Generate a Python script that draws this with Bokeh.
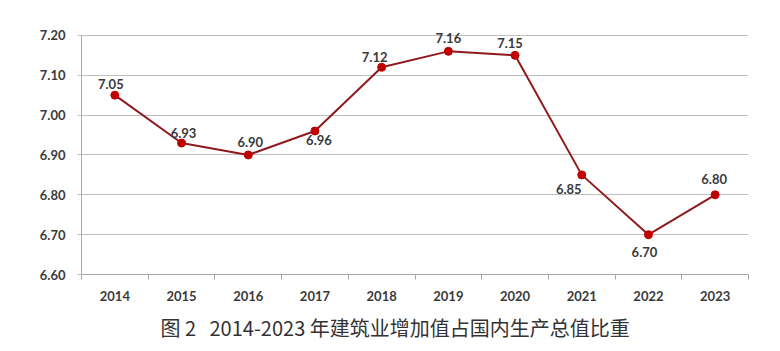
from bokeh.plotting import figure
from bokeh.models import ColumnDataSource, FixedTicker, Range1d, Title, LabelSet, NumeralTickFormatter
from bokeh.core.properties import value
from bokeh.embed import file_html
from bokeh.resources import INLINE

years = [2014, 2015, 2016, 2017, 2018, 2019, 2020, 2021, 2022, 2023]
shares = [7.05, 6.93, 6.90, 6.96, 7.12, 7.16, 7.15, 6.85, 6.70, 6.80]
labels = ["7.05", "6.93", "6.90", "6.96", "7.12", "7.16", "7.15", "6.85", "6.70", "6.80"]
y_ticks = [6.60, 6.70, 6.80, 6.90, 7.00, 7.10, 7.20]
title_text = "图\u00a02\u00a0\u00a0\u00a02014-2023\u00a0年建筑业增加值占国内生产总值比重"

# label placement (screen px, y up)
label_dx = [-4, 2, 2, 4, -7, 0, -5, -13, -4, -1]
label_dy = [11, 10, 13, -9, 10, 13, 12, -14, -17, 16]

src = ColumnDataSource(dict(x=years, y=shares, t=labels, dx=label_dx, dy=label_dy))

p = figure(frame_width=667, frame_height=263, min_border_left=81, min_border_right=32,
           min_border_top=11, min_border_bottom=77,
           x_range=Range1d(years[0] - 0.5, years[-1] + 0.5),
           y_range=Range1d(y_ticks[0], y_ticks[-1] + 0.06),
           output_backend="svg", toolbar_location=None, tools="")
p.outline_line_color = None
p.background_fill_color = "white"
p.border_fill_color = "white"

txt_color = "#3a3a3a"

# axes
p.xaxis.ticker = FixedTicker(ticks=years, minor_ticks=[y - 0.5 for y in years] + [years[-1] + 0.5])
p.xaxis.major_tick_out = 0
p.xaxis.major_tick_in = 0
p.xaxis.minor_tick_out = 5
p.xaxis.minor_tick_in = 0
p.xaxis.minor_tick_line_color = "#A6A6A6"
p.xaxis.axis_line_color = "#A6A6A6"
p.xaxis.major_label_standoff = 11
p.xaxis.major_label_text_font = "Lato"
p.xaxis.major_label_text_font_style = "bold"
p.xaxis.major_label_text_font_size = "13px"
p.xaxis.major_label_text_color = txt_color

p.yaxis.ticker = FixedTicker(ticks=y_ticks)
p.yaxis.bounds = (y_ticks[0], y_ticks[-1])
p.yaxis.formatter = NumeralTickFormatter(format="0.00")
p.yaxis.major_tick_out = 4
p.yaxis.major_tick_in = 0
p.yaxis.minor_tick_line_color = None
p.yaxis.major_tick_line_color = "#BFBFBF"
p.yaxis.axis_line_color = "#A6A6A6"
p.yaxis.major_label_standoff = 12
p.yaxis.major_label_text_font = "Lato"
p.yaxis.major_label_text_font_style = "bold"
p.yaxis.major_label_text_font_size = "13px"
p.yaxis.major_label_text_color = txt_color

p.xgrid.grid_line_color = None
p.ygrid.grid_line_color = "#BFBFBF"
p.ygrid.grid_line_width = 1

p.line("x", "y", source=src, line_color="#8E1A1D", line_width=2)
p.scatter("x", "y", source=src, size=8, fill_color="#C00000", line_color="#C00000")
p.add_layout(LabelSet(x="x", y="y", text="t", source=src, x_offset="dx", y_offset="dy",
                      text_align="center", text_baseline="middle", text_font=value("Lato"),
                      text_font_style="bold", text_font_size="13px", text_color=txt_color))

p.add_layout(Title(text=title_text, align="left", offset=79, standoff=14,
                   text_font="Noto Sans CJK SC", text_font_size="20px",
                   text_font_style="normal", text_color="#333333"), "below")

open("out.html", "w").write(file_html(p, INLINE))
